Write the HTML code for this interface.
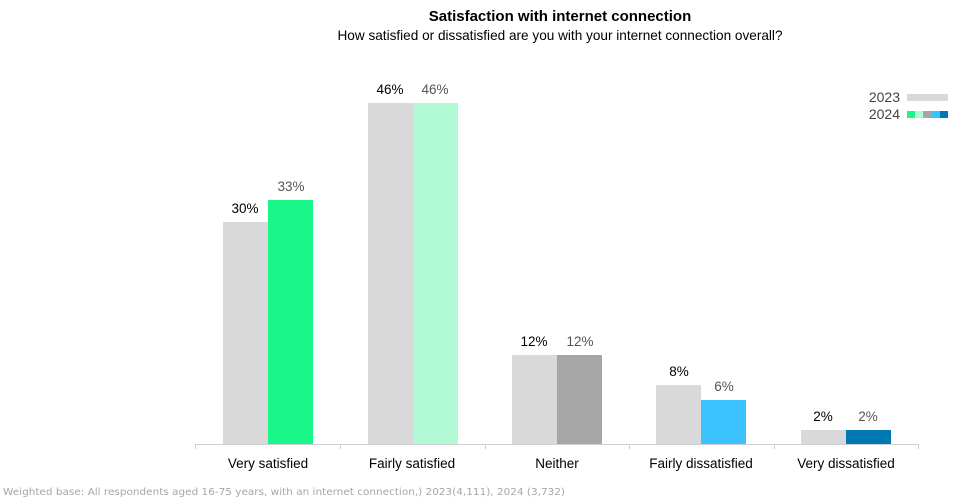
<!DOCTYPE html>
<html><head><meta charset="utf-8"><style>
body{margin:0;background:#fff;}
svg{display:block;font-family:"Liberation Sans",sans-serif;}
</style></head><body>
<svg width="959" height="499" xmlns="http://www.w3.org/2000/svg">
<text x="560" y="21" text-anchor="middle" font-size="15" font-weight="bold" fill="#000">Satisfaction with internet connection</text>
<text x="560" y="40" text-anchor="middle" font-size="13.6" fill="#000">How satisfied or dissatisfied are you with your internet connection overall?</text>
<text x="900" y="102" text-anchor="end" font-size="14" fill="#444">2023</text>
<rect x="907" y="94" width="41" height="7" fill="#d9d9d9"/>
<text x="900" y="119" text-anchor="end" font-size="14" fill="#444">2024</text>
<rect x="907" y="111" width="8" height="7" fill="#19f78a"/>
<rect x="915" y="111" width="8" height="7" fill="#b2f9d6"/>
<rect x="923" y="111" width="9" height="7" fill="#a6a6a6"/>
<rect x="932" y="111" width="8" height="7" fill="#3ac3ff"/>
<rect x="940" y="111" width="8" height="7" fill="#0078b4"/>
<g>
<rect x="223" y="222" width="45" height="222" fill="#d9d9d9"/>
<rect x="268" y="200" width="45" height="244" fill="#19f78a"/>
<rect x="368" y="103" width="45" height="341" fill="#d9d9d9"/>
<rect x="413" y="103" width="45" height="341" fill="#b2f9d6"/>
<rect x="512" y="355" width="45" height="89" fill="#d9d9d9"/>
<rect x="557" y="355" width="45" height="89" fill="#a6a6a6"/>
<rect x="656" y="385" width="45" height="59" fill="#d9d9d9"/>
<rect x="701" y="400" width="45" height="44" fill="#3ac3ff"/>
<rect x="801" y="430" width="45" height="14" fill="#d9d9d9"/>
<rect x="846" y="430" width="45" height="14" fill="#0078b4"/>
</g>
<g font-size="13.5" text-anchor="middle">
<text x="245" y="213" fill="#000">30%</text><text x="291" y="191" fill="#555">33%</text>
<text x="390" y="94" fill="#000">46%</text><text x="435" y="94" fill="#555">46%</text>
<text x="534" y="346" fill="#000">12%</text><text x="580" y="346" fill="#555">12%</text>
<text x="679" y="376" fill="#000">8%</text><text x="724" y="391" fill="#555">6%</text>
<text x="823" y="421" fill="#000">2%</text><text x="868" y="421" fill="#555">2%</text>
</g>
<g stroke="#d0d0d0" stroke-width="1">
<line x1="195" y1="444.5" x2="918" y2="444.5"/>
<line x1="195.5" y1="444" x2="195.5" y2="449"/>
<line x1="340.5" y1="444" x2="340.5" y2="449"/>
<line x1="485.5" y1="444" x2="485.5" y2="449"/>
<line x1="629.5" y1="444" x2="629.5" y2="449"/>
<line x1="774.5" y1="444" x2="774.5" y2="449"/>
<line x1="918.5" y1="444" x2="918.5" y2="449"/>
</g>
<g font-size="13.5" text-anchor="middle" fill="#000">
<text x="268" y="468">Very satisfied</text>
<text x="412" y="468">Fairly satisfied</text>
<text x="557" y="468">Neither</text>
<text x="701" y="468">Fairly dissatisfied</text>
<text x="846" y="468">Very dissatisfied</text>
</g>
<text x="3" y="495" font-size="9.5" fill="#a6a6a6" textLength="562" lengthAdjust="spacingAndGlyphs" font-family="DejaVu Sans, sans-serif">Weighted base: All respondents aged 16-75 years, with an internet connection,) 2023(4,111), 2024 (3,732)</text>
</svg>
</body></html>
